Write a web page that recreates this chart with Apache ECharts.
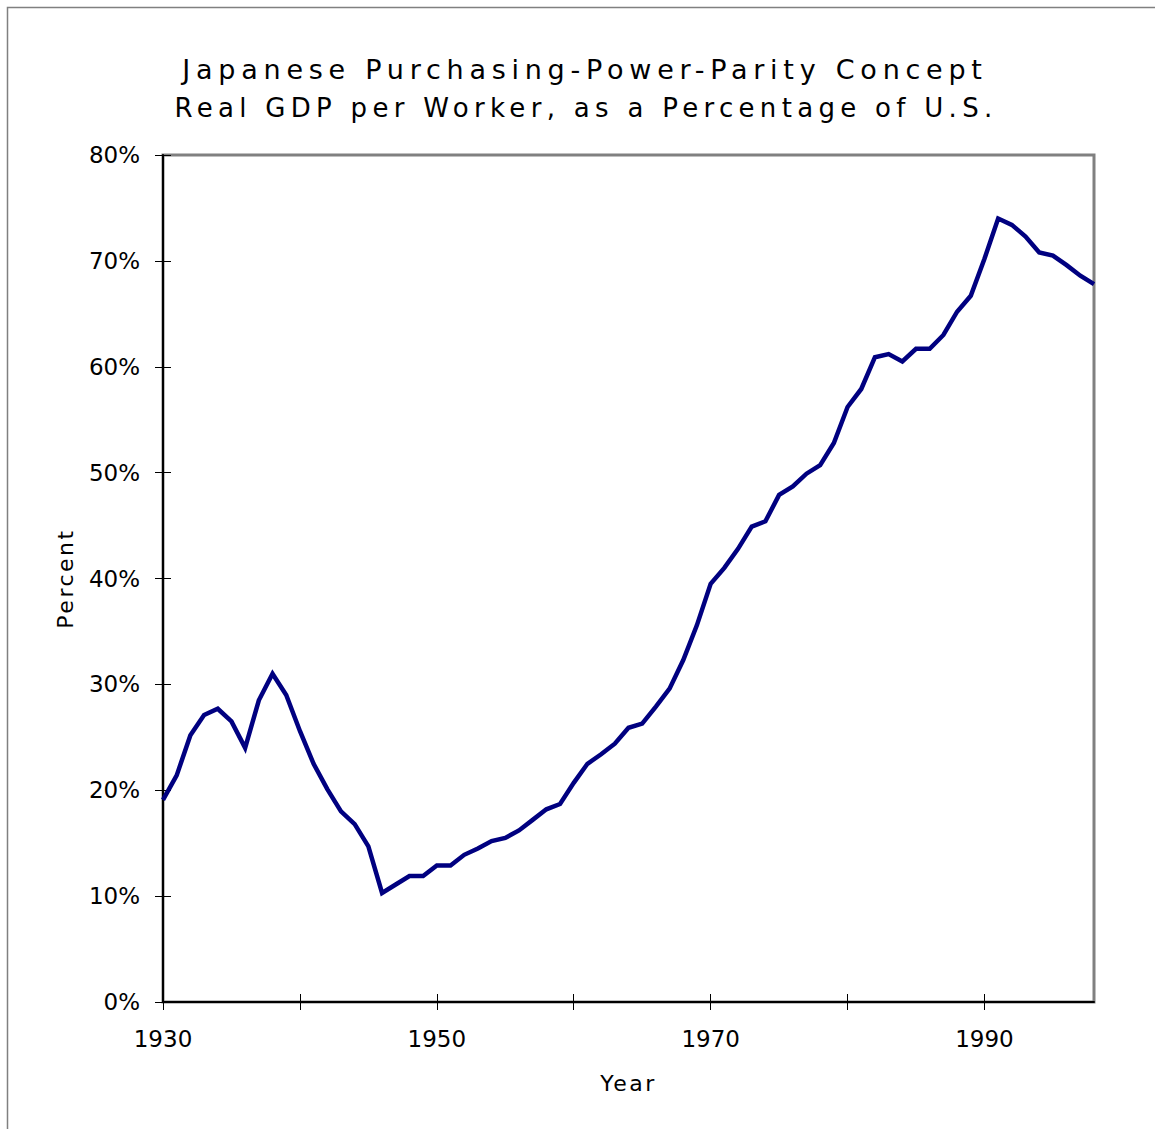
<!DOCTYPE html>
<html>
<head>
<meta charset="utf-8">
<title>Japanese Real GDP per Worker, as a Percentage of U.S.</title>
<script src="https://cdn.jsdelivr.net/npm/echarts@6/dist/echarts.min.js"></script>
<style>
  html, body { margin: 0; padding: 0; background: #ffffff; }
  #chart { width: 1155px; height: 1129px; }
  /* tracking for the two title lines (27px / 26px) and the axis names (22px) */
  #chart text[style*="27px"] { letter-spacing: 5.75px; }
  #chart text[style*="26px"] { letter-spacing: 5.3px; }
  #chart text[style*="22px"] { letter-spacing: 2.5px; }
</style>
</head>
<body>
<div id="chart"></div>
<script>
// Japanese real GDP per worker (PPP), percent of the U.S. level
const years = [
  1930, 1931, 1932, 1933, 1934, 1935, 1936, 1937, 1938, 1939,
  1940, 1941, 1942, 1943, 1944, 1945, 1946, 1947, 1948, 1949,
  1950, 1951, 1952, 1953, 1954, 1955, 1956, 1957, 1958, 1959,
  1960, 1961, 1962, 1963, 1964, 1965, 1966, 1967, 1968, 1969,
  1970, 1971, 1972, 1973, 1974, 1975, 1976, 1977, 1978, 1979,
  1980, 1981, 1982, 1983, 1984, 1985, 1986, 1987, 1988, 1989,
  1990, 1991, 1992, 1993, 1994, 1995, 1996, 1997, 1998
];
const gdpShare = [
  19.1, 21.4, 25.2, 27.1, 27.7, 26.5, 24.0, 28.5, 31.0, 29.0,
  25.6, 22.5, 20.1, 18.0, 16.8, 14.7, 10.3, 11.1, 11.9, 11.9,
  12.9, 12.9, 13.9, 14.5, 15.2, 15.5, 16.2, 17.2, 18.2, 18.7,
  20.7, 22.5, 23.4, 24.4, 25.9, 26.3, 27.9, 29.6, 32.3, 35.6,
  39.5, 41.0, 42.8, 44.9, 45.4, 47.9, 48.7, 49.9, 50.7, 52.8,
  56.2, 57.9, 60.9, 61.2, 60.5, 61.7, 61.7, 63.0, 65.2, 66.7,
  70.2, 74.0, 73.4, 72.3, 70.8, 70.5, 69.6, 68.6, 67.8
];
const yearTicks = [1930, 1940, 1950, 1960, 1970, 1980, 1990];
const yearLabels = [1930, 1950, 1970, 1990];
const titleLines = [
  'Japanese Purchasing-Power-Parity Concept',
  'Real GDP per Worker, as a Percentage of U.S.'
];

const FONT = '"DejaVu Sans", Verdana, sans-serif';
const xMin = 1930, xMax = 1998;

const chart = echarts.init(document.getElementById('chart'), null, { renderer: 'svg' });

const tickStyle = { color: '#000000', width: 1 };

chart.setOption({
  backgroundColor: '#ffffff',
  animation: false,
  graphic: [
    {
      type: 'rect',
      silent: true,
      shape: { x: 7.5, y: 7.5, width: 1300, height: 1300 },
      style: { fill: 'none', stroke: '#808080', lineWidth: 1.5 }
    },
    {
      type: 'text',
      x: 585, y: 69,
      style: {
        text: titleLines[0], fill: '#000000',
        fontFamily: FONT, fontSize: 27,
        textAlign: 'center', textVerticalAlign: 'middle'
      }
    },
    {
      type: 'text',
      x: 586, y: 108,
      style: {
        text: titleLines[1], fill: '#000000',
        fontFamily: FONT, fontSize: 26,
        textAlign: 'center', textVerticalAlign: 'middle'
      }
    }
  ],
  grid: {
    left: 163, right: 61, top: 155, bottom: 127,
    show: true, borderColor: '#808080', borderWidth: 3,
    backgroundColor: '#ffffff'
  },
  xAxis: [
    {
      type: 'value', min: xMin, max: xMax, interval: 10,
      name: 'Year', nameLocation: 'middle', nameGap: 70,
      nameTextStyle: { fontFamily: FONT, fontSize: 22, color: '#000000' },
      axisLine: { show: true, onZero: false, lineStyle: { color: '#000000', width: 2 } },
      axisTick: { show: true, length: 8, customValues: yearTicks, lineStyle: tickStyle },
      axisLabel: {
        customValues: yearLabels, margin: 25,
        fontFamily: FONT, fontSize: 23, color: '#000000',
        formatter: v => String(v)
      },
      splitLine: { show: false }
    },
    {
      type: 'value', min: xMin, max: xMax, interval: 10, position: 'bottom',
      axisLine: { show: false },
      axisTick: { show: true, inside: true, length: 8, customValues: yearTicks, lineStyle: tickStyle },
      axisLabel: { show: false },
      splitLine: { show: false }
    }
  ],
  yAxis: [
    {
      type: 'value', min: 0, max: 80, interval: 10,
      name: 'Percent', nameLocation: 'middle', nameGap: 87, nameRotate: 90,
      nameTextStyle: { fontFamily: FONT, fontSize: 22, color: '#000000' },
      axisLine: { show: true, onZero: false, lineStyle: { color: '#000000', width: 2 } },
      axisTick: { show: true, length: 8, lineStyle: tickStyle },
      axisLabel: {
        margin: 23, fontFamily: FONT, fontSize: 23, color: '#000000',
        formatter: '{value}%'
      },
      splitLine: { show: false }
    },
    {
      type: 'value', min: 0, max: 80, interval: 10, position: 'left',
      axisLine: { show: false },
      axisTick: { show: true, inside: true, length: 8, lineStyle: tickStyle },
      axisLabel: { show: false },
      splitLine: { show: false }
    }
  ],
  series: [
    {
      type: 'line',
      xAxisIndex: 0, yAxisIndex: 0,
      data: years.map((y, i) => [y, gdpShare[i]]),
      showSymbol: false,
      smooth: false,
      lineStyle: { color: '#000080', width: 4.5, join: 'miter' },
      z: 5
    }
  ]
});
</script>
</body>
</html>
